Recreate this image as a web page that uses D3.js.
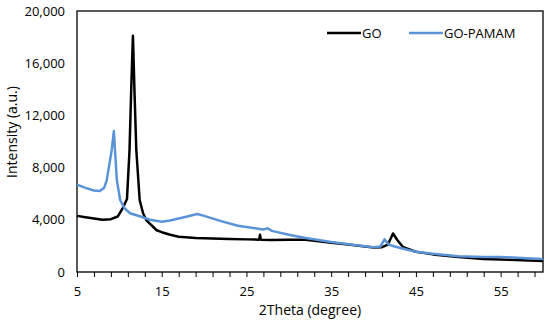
<!DOCTYPE html>
<html>
<head>
<meta charset="utf-8">
<script src="https://cdn.jsdelivr.net/npm/d3@7"></script>
<style>
  body { margin: 0; background: #fff; }
  text { font-family: "Open Sans", sans-serif; fill: #000; }
</style>
</head>
<body>
<svg id="chart" width="550" height="325"></svg>
<script>
// GO (black)
const goTheta = [5, 6, 7, 8, 9, 9.8, 10.4, 10.9, 11.2, 11.4, 11.6, 11.8, 12.0, 12.4, 12.8, 13.2, 14.4, 15, 16, 17, 19, 21, 23, 25, 26.5, 26.6, 26.7, 28, 30, 32, 33, 35, 37, 39, 40, 41, 41.7, 42.3, 42.8, 43.5, 45, 47, 50, 53, 56, 60];
const goIntensity = [4300, 4200, 4100, 4000, 4050, 4250, 4900, 5600, 9350, 14000, 18100, 13500, 9350, 5500, 4500, 3950, 3200, 3050, 2850, 2700, 2600, 2560, 2520, 2500, 2480, 2850, 2480, 2450, 2480, 2470, 2400, 2250, 2100, 1950, 1880, 1900, 2100, 2950, 2450, 1900, 1550, 1350, 1150, 1000, 930, 850];

// GO-PAMAM (blue)
const pamamTheta = [5, 6, 7, 7.7, 8.2, 8.5, 9.1, 9.35, 9.7, 10.1, 10.6, 11.25, 12.5, 13.6, 15, 16, 17, 18, 19.2, 20, 22, 24, 26, 27, 27.5, 28, 30, 32, 35, 38, 40, 40.8, 41.3, 41.8, 42.5, 44, 45, 47, 50, 53, 55, 58, 60];
const pamamIntensity = [6700, 6450, 6250, 6200, 6450, 7000, 9350, 10800, 7050, 5500, 4900, 4500, 4250, 4000, 3850, 3950, 4100, 4250, 4450, 4300, 3900, 3550, 3350, 3250, 3350, 3150, 2850, 2600, 2300, 2050, 1900, 1950, 2500, 2100, 1950, 1700, 1550, 1400, 1200, 1150, 1150, 1050, 1000];

const xTickLabels = [5, 15, 25, 35, 45, 55];
const yTickLabels = [0, 4000, 8000, 12000, 16000, 20000];
const seriesNames = ["GO", "GO-PAMAM"];
const seriesColors = ["#000000", "#5B93D8"];

const svg = d3.select("#chart");
const margin = { top: 11, right: 7, bottom: 53, left: 77 };
const width = 550 - margin.left - margin.right;
const height = 325 - margin.top - margin.bottom;

const x = d3.scaleLinear().domain([5, 60]).range([0, width]);
const y = d3.scaleLinear().domain([0, 20000]).range([height, 0]);

const g = svg.append("g").attr("transform", `translate(${margin.left},${margin.top})`);

// x axis: ticks every 2 units, labels every 10
const xAxis = d3.axisBottom(x)
  .tickValues(d3.range(5, 60, 2))
  .tickSize(5)
  .tickFormat(d => xTickLabels.includes(d) ? d : "");
const gx = g.append("g").attr("transform", `translate(0,${height})`).call(xAxis);
gx.select(".domain").remove();
gx.selectAll("line").attr("stroke", "#000").attr("stroke-width", 1);
gx.selectAll("text").attr("font-size", "13px").attr("dy", "1.2em");

const yAxis = d3.axisLeft(y).tickValues(yTickLabels).tickSize(0).tickPadding(12)
  .tickFormat(d3.format(","));
const gy = g.append("g").call(yAxis);
gy.select(".domain").remove();
gy.selectAll("text").attr("font-size", "13px");

// frame
g.append("rect").attr("width", width).attr("height", height)
  .attr("fill", "none").attr("stroke", "#000").attr("stroke-width", 1.3);

const line = d3.line().x(d => x(d[0])).y(d => y(d[1]));
const goData = d3.zip(goTheta, goIntensity);
const pamamData = d3.zip(pamamTheta, pamamIntensity);

g.append("path").datum(goData).attr("d", line)
  .attr("fill", "none").attr("stroke", seriesColors[0]).attr("stroke-width", 2.5)
  .attr("stroke-linejoin", "round");
g.append("path").datum(pamamData).attr("d", line)
  .attr("fill", "none").attr("stroke", seriesColors[1]).attr("stroke-width", 2.5)
  .attr("stroke-linejoin", "round");

// legend
const legendX = [327, 409];
seriesNames.forEach((name, i) => {
  svg.append("line").attr("x1", legendX[i]).attr("x2", legendX[i] + 34)
    .attr("y1", 33).attr("y2", 33)
    .attr("stroke", seriesColors[i]).attr("stroke-width", 2.4);
  svg.append("text").attr("x", legendX[i] + 35).attr("y", 37.5)
    .attr("font-size", "13px").text(name);
});

// axis titles
svg.append("text").attr("x", 310).attr("y", 315)
  .attr("text-anchor", "middle").attr("font-size", "14px").text("2Theta (degree)");
svg.append("text")
  .attr("transform", "translate(17,132) rotate(-90)")
  .attr("text-anchor", "middle").attr("font-size", "14px").text("Intensity (a.u.)");
</script>
</body>
</html>
